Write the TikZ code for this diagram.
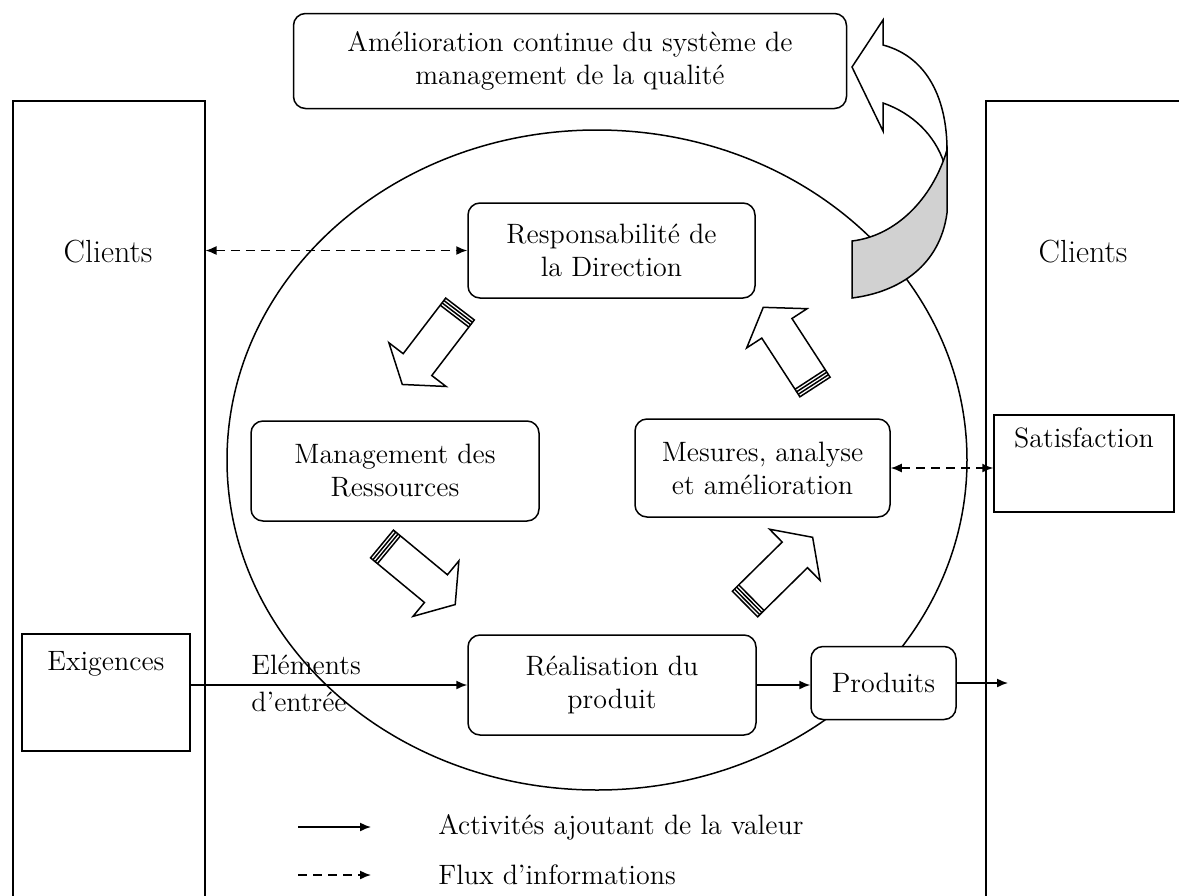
\documentclass[tikz,border=0pt]{standalone}
\usepackage{tikz}
\usetikzlibrary{positioning,arrows.meta}

\begin{document}
\begin{tikzpicture}[
    x=0.5pt, y=-0.5pt,
    >={Latex[length=5.5pt,width=4.5pt]},
    line width=0.75pt,
    every node/.style={font=\fontsize{14}{16.5}\selectfont},
    box/.style={draw, rounded corners=6pt, fill=white, align=center},
    sqbox/.style={draw, fill=white, align=center, anchor=north, inner ysep=4pt},
    client/.style={draw, anchor=north west, minimum width=96pt, minimum height=420pt},
    bigtext/.style={font=\fontsize{16}{19}\selectfont},
    flow/.style={->},
    dflow/.style={->, dash pattern=on 4.5pt off 3pt},
    info/.style={dflow, <->},
    blockarrow/.pic={
        \draw[fill=white] (0,-18) -- (70,-18) -- (70,-36) -- (95,0) -- (70,36) -- (70,18) -- (0,18) -- cycle;
        \draw (3,-18) -- (3,18) (6,-18) -- (6,18) (9,-18) -- (9,18);
    },
]
\useasboundingbox (0,0) rectangle (1179,895);

\draw (597,460) ellipse [x radius=185pt, y radius=165pt];

\node[client] (cliL) at (12,100) {};
\node[client, minimum width=110pt] (cliR) at (985,100) {};
\node[bigtext] (txtL) at (108,252) {Clients};
\node[bigtext] (txtR) at (1083,252) {Clients};

\node[box, minimum width=276.5pt, minimum height=47.5pt] (amel) at (570,61) {Amélioration continue du système de\\management de la qualité};
\node[box, minimum width=143.5pt, minimum height=47.5pt] (resp) at (611.5,250.5) {Responsabilité de\\la Direction};
\node[box, minimum width=144pt, minimum height=50pt] (mgmt) at (395,471) {Management des\\Ressources};
\node[box, minimum width=127.5pt, minimum height=49pt] (mes) at (762.5,468) {Mesures, analyse\\et amélioration};
\node[box, minimum width=144pt, minimum height=50pt] (real) at (612,685) {Réalisation du\\produit};
\node[box, minimum width=72.5pt, minimum height=36.5pt] (prod) at (883.5,683) {Produits};

\node[sqbox, minimum width=84pt, text height=14.5pt, text depth=36pt] (exig) at (106,633) {Exigences};
\node[sqbox, minimum width=90pt, text height=12.5pt, text depth=28pt] (sat) at (1084,414) {Satisfaction};

\pic[rotate=232.6] at (460,309) {blockarrow};
\pic[rotate=-39.6] at (382,544) {blockarrow};
\pic[rotate=44.6] at (745,604) {blockarrow};
\pic[rotate=123] at (815,387) {blockarrow};

\draw[fill=white] (852,67) -- (883,20) -- (883,45) .. controls (928,57) and (947,100) .. (947,150)
    -- (944,163) .. controls (935,135) and (912,113) .. (883,103) -- (883,131) -- cycle;
\draw[fill=black!18] (852,241) .. controls (895,236) and (932,200) .. (947,150)
    -- (947,213) .. controls (940,265) and (900,292) .. (852,298) -- cycle;

\draw[info] (cliL.east |- resp.west) -- (resp.west);
\draw[info] (mes.east) -- (mes.east -| sat.west);
\draw[flow] (exig.east |- real.west) -- (real.west);
\draw[flow] (real.east) -- (real.east -| prod.west);
\coordinate (out) at (1008,683);
\draw[flow] (prod.east) -- (out);
\node[anchor=west, align=left] (elem) at (244,683) {Eléments\\[2pt]d'entrée};

\coordinate (la) at (298,827);
\coordinate (lb) at (371,827);
\coordinate (lc) at (298,875);
\coordinate (ld) at (371,875);
\draw[flow] (la) -- (lb);
\draw[dflow] (lc) -- (ld);
\node[right=30pt of lb] (leg1) {Activités ajoutant de la valeur};
\node[right=30pt of ld] (leg2) {Flux d'informations};
\end{tikzpicture}
\end{document}
